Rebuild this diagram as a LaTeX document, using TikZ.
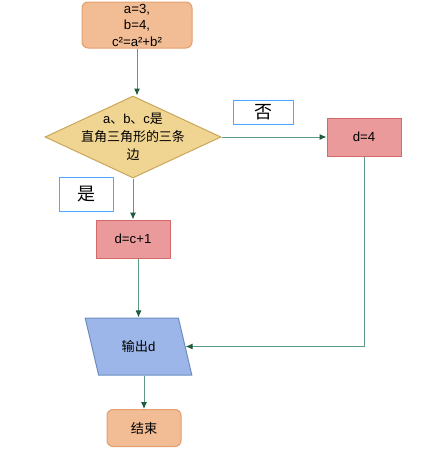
\documentclass[tikz,border=0pt]{standalone}
\usepackage{fontspec}
\setmainfont{Liberation Sans}
\newfontfamily\cjk{Noto Sans CJK SC}
\usetikzlibrary{positioning,shapes.geometric,arrows.meta}
\definecolor{termfill}{HTML}{F2BC94}
\definecolor{termdraw}{HTML}{E39F6E}
\definecolor{condfill}{HTML}{F0D491}
\definecolor{conddraw}{HTML}{C9A65A}
\definecolor{procfill}{HTML}{EA9A9A}
\definecolor{procdraw}{HTML}{D26A6A}
\definecolor{iofill}{HTML}{9DB6E9}
\definecolor{iodraw}{HTML}{6C8EBF}
\definecolor{tagdraw}{HTML}{4DA6FF}
\definecolor{flowline}{HTML}{5C9A82}
\definecolor{flowhead}{HTML}{1E5B3C}
\begin{document}
\begin{tikzpicture}[x=1pt,y=-1pt,>={Latex[length=7pt,width=6pt,color=flowhead]},
  font=\fontsize{13.2}{16.5}\selectfont]
% --- Layout & Styles --------------------------------------
\tikzstyle{term node}=[rectangle,rounded corners=6,draw=termdraw,fill=termfill,line width=1pt,align=center,inner sep=0];
\tikzstyle{cond node}=[diamond,draw=conddraw,fill=condfill,line width=1pt,inner sep=0,minimum width=176,minimum height=82];
\tikzstyle{proc node}=[rectangle,draw=procdraw,fill=procfill,line width=1pt,minimum width=74,minimum height=38];
\tikzstyle{io node}=[trapezium,trapezium left angle=115,trapezium right angle=65,trapezium stretches=true,
  draw=iodraw,fill=iofill,line width=1pt,inner sep=0,minimum width=107,minimum height=57];
\tikzstyle{tag node}=[rectangle,draw=tagdraw,fill=white,line width=1pt,font=\cjk\fontsize{18}{18}\selectfont];
\tikzstyle{flow}=[draw=flowline,line width=1pt];
\useasboundingbox (0,0) rectangle (441,450);

% --- Boxes ------------------------------------------------
\node (start)[term node, minimum width=110, minimum height=46] at (137,25) {a=3,\\b=4,\\c²=a²+b²};
\node (cond)[cond node] at (133,137) {};
\node (condtext)[align=center, font=\fontsize{13}{18}\selectfont] at (cond)
  {a{\cjk 、}b{\cjk 、}c{\cjk 是}\\{\cjk 直角三角形的三条}\\{\cjk 边}};
\node (d4)[proc node] at (364,137) {d=4};
\node (dc1)[proc node] at (133,239) {d=c+1};
\node (out)[io node] at (138.5,346.5) {{\cjk 输出}d};
\node (end)[term node, minimum width=74, minimum height=37] at (144,428) {\cjk 结束};

% --- Node labels ------------------------------------------
\node (no)[tag node, minimum width=60, minimum height=24] at (263,112) {否};
\node (yes)[tag node, minimum width=54, minimum height=34] at (86.5,194.5) {是};

% --- Edges ------------------------------------------------
\draw [flow, ->] (start.south) -- (start.south |- cond.north);
\draw [flow, ->] (cond.south) -- (dc1.north);
\draw [flow, ->] (cond.east) -- (d4.west);
\draw [flow, ->] (dc1.south -| out.north) -- (out.north);
\draw [flow, ->] (d4.south) |- (out.east);
\draw [flow, ->] (out.south -| end.north) -- (end.north);

\end{tikzpicture}
\end{document}
